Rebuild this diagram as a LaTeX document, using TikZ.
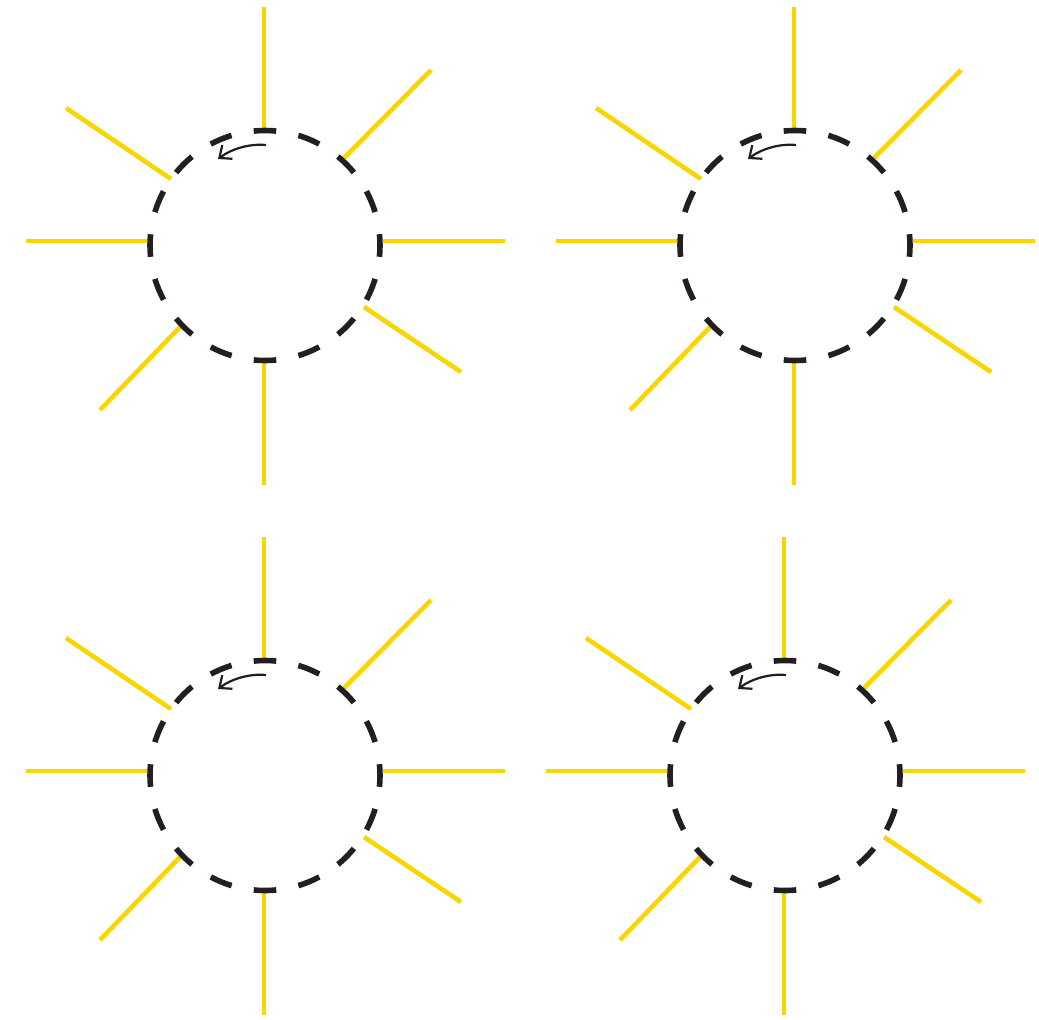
\documentclass[tikz,border=0pt]{standalone}
\usepackage{tikz}
\usetikzlibrary{arrows.meta}

\definecolor{sunray}{RGB}{250,214,0}
\definecolor{inkblack}{RGB}{35,31,32}

\begin{document}
\begin{tikzpicture}[
    x=0.5pt, y=-0.5pt,
    ray/.style={draw=sunray, line width=2.3pt},
    rim/.style={draw=inkblack, line width=2.8pt, dash pattern=on 11.29pt off 11.29pt, dash phase=5.65pt},
    spin/.style={draw=inkblack, line width=1.1pt, -{Straight Barb[length=5pt, width=8.5pt]}}
]

    \useasboundingbox (0,0) rectangle (1039,1019);

    % four suns
    \foreach \cx/\cy/\nm in {265/245.5/nw, 795/245.5/ne, 265/775.5/sw, 785/775.5/se} {
        \begin{scope}[shift={(\cx,\cy)}]
            \coordinate (\nm) at (0,0);

            % rays
            \foreach \ax/\ay/\bx/\by in {-1/-115.5/-1/-238.5, 79/-87.5/166/-175.5,
                118/-4.5/240/-4.5, 99/61.5/196/126.5, -1/116.5/-1/239.5,
                -85/81.5/-165/164.5, -116/-4.5/-239/-4.5, -94/-66.5/-199/-137.5}
                \draw[ray] (\ax,\ay) -- (\bx,\by);

            % dashed rim
            \draw[rim] (\nm) circle [radius=115];

            % turning arrow
            \coordinate (\nm-a) at (1,-100.5);
            \coordinate (\nm-b) at (-47,-86.5);
            \draw[spin] (\nm-a) .. controls (-15,-102) and (-33,-97) .. (\nm-b);
        \end{scope}
    }

\end{tikzpicture}
\end{document}
